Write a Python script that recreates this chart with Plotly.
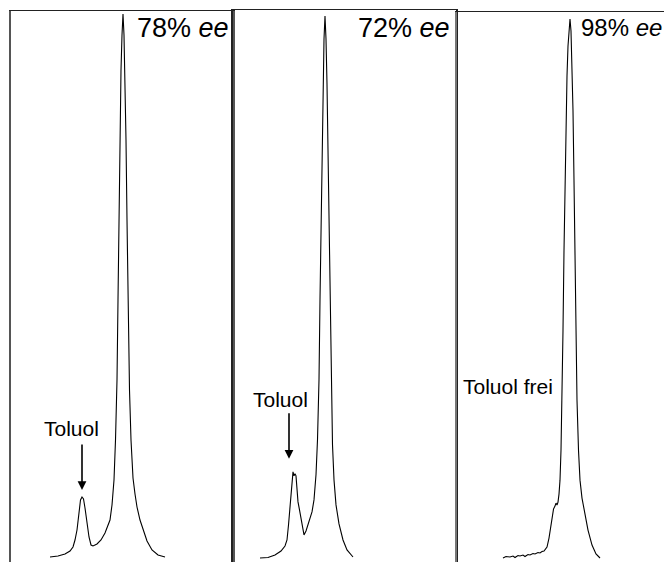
import plotly.graph_objects as go

# Chromatogram traces (retention time in arbitrary min, detector signal in arbitrary units)
t1 = [1.95, 2.35, 2.70, 2.95, 3.10, 3.20, 3.30, 3.40, 3.475, 3.55, 3.625, 3.70, 3.80, 3.90, 4.00, 4.10,
      4.30, 4.50, 4.70, 4.85, 4.95, 5.05, 5.15, 5.225, 5.30, 5.35, 5.40, 5.45, 5.50, 5.55, 5.60,
      5.65, 5.70, 5.75, 5.80, 5.85, 5.925, 6.00, 6.10, 6.20, 6.30, 6.45, 6.60, 6.80, 7.05, 7.35, 7.70]
s1 = [0.2, 0.4, 0.8, 1.4, 2.2, 3.6, 5.6, 9.6, 11.6, 12.2, 11.8, 10.0, 7.2, 4.2, 2.6, 2.4,
      2.8, 3.6, 5.0, 6.8, 7.6, 10.6, 15.6, 23.6, 35.6, 51.6, 69.6, 85.6, 97.6, 104.6, 108.8,
      104.6, 96.6, 83.6, 67.6, 49.6, 33.6, 23.6, 16.0, 12.8, 10.2, 7.6, 5.6, 3.4, 1.6, 0.6, 0.2]

t2 = [1.35, 1.75, 2.10, 2.40, 2.60, 2.70, 2.775, 2.85, 2.925, 3.00, 3.05, 3.10, 3.15, 3.20, 3.25,
      3.325, 3.40, 3.475, 3.55, 3.65, 3.80, 3.95, 4.05, 4.15, 4.225, 4.30, 4.35, 4.40, 4.45, 4.50,
      4.55, 4.60, 4.65, 4.70, 4.75, 4.80, 4.85, 4.90, 4.975, 5.05, 5.15, 5.30, 5.50, 5.70, 6.00]
s2 = [0.0, 0.1, 0.6, 1.4, 2.4, 3.6, 6.6, 10.6, 14.6, 17.2, 16.4, 16.8, 16.4, 14.0, 11.2,
      9.6, 8.0, 5.6, 4.6, 5.4, 7.2, 9.2, 11.6, 16.6, 23.6, 35.6, 51.6, 67.6, 83.6, 95.6,
      103.6, 108.2, 103.6, 94.6, 81.6, 65.6, 47.6, 33.6, 22.6, 15.6, 10.6, 6.8, 3.6, 1.6, 0.2]

t3 = [2.30, 2.45, 2.65, 2.80, 2.90, 3.05, 3.15, 3.30, 3.40, 3.55, 3.65, 3.80, 3.90, 4.05, 4.15, 4.25,
      4.35, 4.50, 4.60, 4.675, 4.75, 4.825, 4.90, 4.95, 5.00, 5.05, 5.10, 5.15, 5.20, 5.25, 5.30,
      5.35, 5.40, 5.45, 5.50, 5.55, 5.60, 5.65, 5.70, 5.75, 5.80, 5.85, 5.90, 5.95, 6.00, 6.075,
      6.15, 6.25, 6.40, 6.55, 6.75, 6.95, 7.15]
s3 = [0.0, 0.3, 0.2, 0.4, 0.1, 0.5, 0.4, 0.6, 0.3, 0.7, 0.6, 0.9, 0.8, 1.1, 1.0, 1.3,
      1.4, 2.2, 4.0, 6.2, 8.4, 9.8, 10.4, 11.0, 10.6, 11.2, 12.8, 15.6, 21.6, 31.6, 45.6,
      61.6, 75.6, 87.6, 96.6, 102.6, 106.6, 108.0, 105.6, 99.6, 89.6, 75.6, 59.6, 43.6, 31.6, 21.6,
      15.6, 12.0, 8.6, 5.6, 2.6, 0.8, 0.0]

ee_labels = ["78% <i>ee</i>", "72% <i>ee</i>", "98% <i>ee</i>"]
peak_labels = ["Toluol", "Toluol", "Toluol frei"]

OFF = 8  # default page body margin
W, H = 672 - 2 * OFF, 562 - OFF  # figure fits the window without scrollbars
FONT = "Liberation Sans, Arial, sans-serif"

fig = go.Figure()
traces = [(t1, s1), (t2, s2), (t3, s3)]
for i, (t, s) in enumerate(traces):
    sfx = "" if i == 0 else str(i + 1)
    fig.add_trace(go.Scatter(x=t, y=s, mode="lines", line=dict(color="black", width=1.1),
                             xaxis="x" + sfx, yaxis="y" + sfx, showlegend=False, hoverinfo="skip"))

x_domains = [[(11 - OFF) / W, (233 - OFF) / W], [(233 - OFF) / W, (456 - OFF) / W], [(457 - OFF) / W, 1.0]]
x_ranges = [[0, 11.1], [0, 11.15], [0, 10.35]]
y_tops = [1 - (11 - OFF) / H, 1 - (10 - OFF) / H, 1 - (12 - OFF) / H]
mirrors = [True, True, False]
ylc = ["#555", "#222", "#777"]

layout = dict(width=W, height=H, margin=dict(l=0, r=0, t=0, b=0),
              paper_bgcolor="white", plot_bgcolor="white",
              font=dict(family=FONT, color="black"))
for i in range(3):
    sfx = "" if i == 0 else str(i + 1)
    layout["xaxis" + sfx] = dict(domain=x_domains[i], range=x_ranges[i], side="top",
                                 showline=True, linecolor="#222", linewidth=1.1,
                                 showticklabels=False, ticks="", showgrid=False, zeroline=False,
                                 anchor="y" + sfx)
    layout["yaxis" + sfx] = dict(domain=[0, y_tops[i]], range=[-0.8, 109.4],
                                 showline=True, mirror=mirrors[i], linecolor=ylc[i], linewidth=1.5,
                                 showticklabels=False, ticks="", showgrid=False, zeroline=False,
                                 anchor="x" + sfx)
fig.update_layout(**layout)

# ee labels (top-right of each panel)
ee_x = [(231 - OFF) / W, (452 - OFF) / W, 1.0]
ee_size = [27, 27, 24]
for i in range(3):
    fig.add_annotation(text=ee_labels[i], xref="paper", yref="paper", x=ee_x[i], y=1 - (28 - OFF) / H,
                       xanchor="right", yanchor="middle", showarrow=False,
                       font=dict(size=ee_size[i], family=FONT, color="black"))

# peak labels
lab_pos = [(3.0, 26.0), (2.35, 31.6), (2.55, 34.4)]
for i in range(3):
    sfx = "" if i == 0 else str(i + 1)
    fig.add_annotation(text=peak_labels[i], xref="x" + sfx, yref="y" + sfx,
                       x=lab_pos[i][0], y=lab_pos[i][1], showarrow=False,
                       xanchor="center", yanchor="middle",
                       font=dict(size=21, family=FONT, color="black"))

# arrows pointing at toluene peaks
arrows = [(3.55, 13.6, 23.0, ""), (2.8, 19.8, 29.2, "2")]
for x, ytip, ytail, sfx in arrows:
    fig.add_annotation(text="", xref="x" + sfx, yref="y" + sfx, axref="x" + sfx, ayref="y" + sfx,
                       x=x, y=ytip, ax=x, ay=ytail, showarrow=True, arrowhead=2,
                       arrowsize=1.1, arrowwidth=1.6, arrowcolor="black", standoff=0)

fig.write_html("out.html")
